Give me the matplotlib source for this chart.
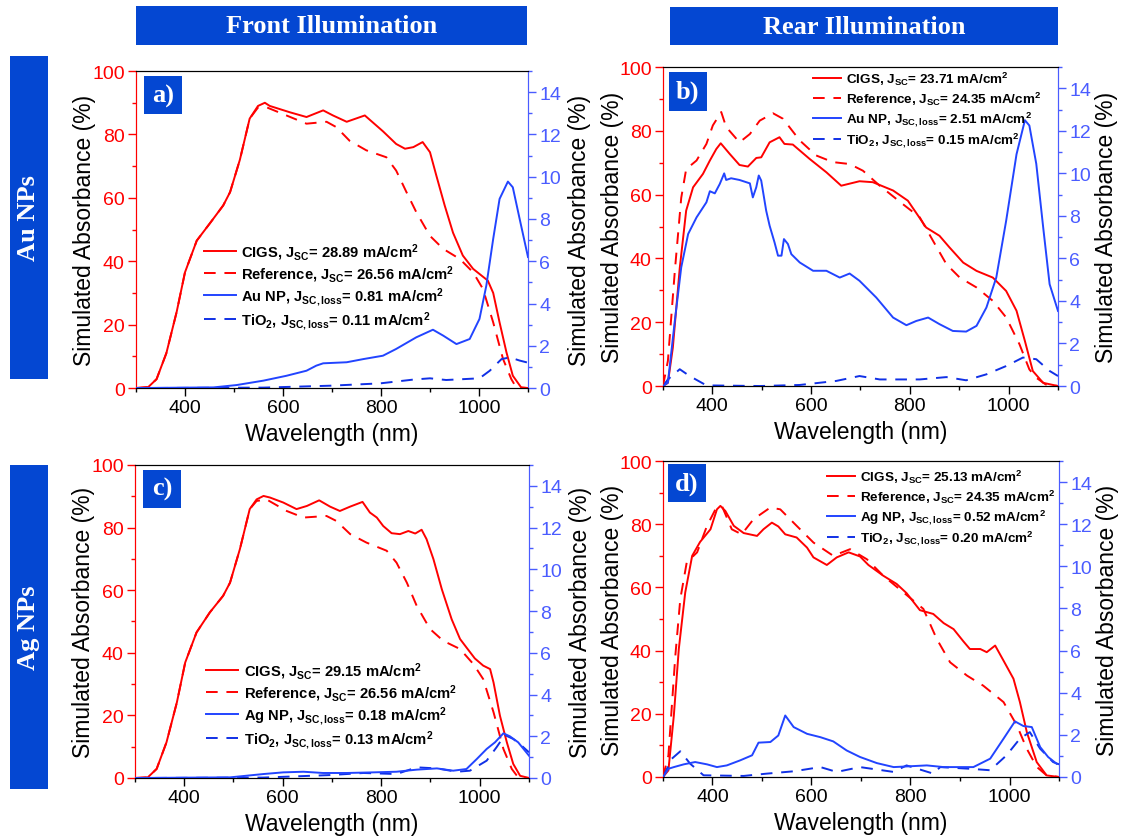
import matplotlib
matplotlib.use("Agg")
import matplotlib.pyplot as plt
from matplotlib.patches import Rectangle
from matplotlib.ticker import MultipleLocator

plt.rcParams['font.family'] = ['Liberation Sans', 'DejaVu Sans']
plt.rcParams['mathtext.fontset'] = 'custom'
plt.rcParams['mathtext.rm'] = 'Liberation Sans'
plt.rcParams['mathtext.bf'] = 'Liberation Sans:bold'
plt.rcParams['mathtext.it'] = 'Liberation Sans:italic'

# ---------------- panel a: Au NPs, front illumination ----------------
a_cigs_wl = [300, 325, 342, 362, 383, 400, 424, 451, 478, 492, 512, 532, 549, 563, 573, 614, 648, 682, 702, 730,
             767, 804, 831, 849, 866, 885, 900, 913, 930, 947, 967, 988, 1018, 1029, 1042, 1056, 1069, 1086, 1100]
a_cigs = [0, 0.3, 2.8, 11, 24, 36.5, 46.5, 52, 57.6, 61.8, 72, 85, 89, 90, 89, 87, 85.5, 87.6, 86, 84,
          86, 81, 77, 75.5, 76, 77.6, 74.4, 67, 57.6, 49, 41.8, 37.6, 33.9, 30, 20.7, 11.3, 3.9, 0.2, 0]
a_ref_wl = [300, 325, 342, 362, 383, 400, 424, 451, 478, 492, 512, 532, 549, 566, 607, 648, 689, 709, 736, 770,
            811, 831, 852, 872, 900, 927, 961, 988, 1008, 1029, 1049, 1066, 1076, 1100]
a_ref = [0, 0.3, 2.8, 11, 24, 36.5, 46.5, 52, 57.6, 61.8, 72, 85, 88.5, 88.6, 86, 83.4, 84, 82.3, 78, 75,
         72.8, 68.6, 61.8, 55.5, 48, 43.9, 40.7, 36.5, 31.3, 20.7, 9.2, 2.8, 0.2, 0]
a_np_wl = [300, 458, 505, 560, 607, 648, 668, 682, 730, 764, 804, 831, 872, 906, 927, 954, 981, 1001, 1015,
           1029, 1042, 1059, 1069, 1083, 1100]
a_np = [0, 0.03, 0.14, 0.35, 0.58, 0.82, 1.06, 1.17, 1.22, 1.37, 1.53, 1.85, 2.4, 2.76, 2.48, 2.08, 2.32, 3.27,
        4.85, 7.06, 8.95, 9.77, 9.5, 8.0, 6.2]
a_tio2_wl = [300, 560, 696, 798, 866, 900, 933, 1001, 1022, 1046, 1063, 1083, 1100]
a_tio2 = [0, 0.02, 0.11, 0.22, 0.4, 0.46, 0.38, 0.46, 0.82, 1.37, 1.45, 1.3, 1.2]
a_labels = [r"CIGS, J$_{\mathbf{SC}}$= 28.89 mA/cm$^{\mathbf{2}}$",
            r"Reference, J$_{\mathbf{SC}}$= 26.56 mA/cm$^{\mathbf{2}}$",
            r"Au NP, J$_{\mathbf{SC,loss}}$= 0.81 mA/cm$^{\mathbf{2}}$",
            r"TiO$_{\mathbf{2}}$, J$_{\mathbf{SC,loss}}$= 0.11 mA/cm$^{\mathbf{2}}$"]

# ---------------- panel b: Au NPs, rear illumination ----------------
b_cigs_wl = [300, 310, 320, 334, 347, 361, 381, 395, 408, 417, 435, 455, 472, 489, 499, 516, 536, 546, 563, 597,
             631, 661, 698, 725, 766, 796, 833, 860, 880, 908, 935, 968, 995, 1016, 1033, 1049, 1070, 1100]
b_cigs = [0, 1, 12, 37, 55, 62.3, 66.5, 70.7, 74.3, 76.1, 72.8, 69.3, 68.8, 71.5, 71.7, 76.4, 78, 75.9, 75.7, 71.2,
          67, 62.8, 64.2, 63.9, 61.3, 58.1, 49.7, 47.1, 43.5, 38.7, 36.1, 34, 29.8, 23.6, 14.1, 4.7, 1, 0]
b_ref_wl = [300, 310, 324, 337, 347, 368, 388, 401, 418, 428, 455, 476, 496, 523, 543, 577, 610, 644, 678, 705,
            739, 786, 820, 847, 874, 901, 935, 968, 995, 1022, 1042, 1056, 1075, 1100]
b_ref = [0, 7.9, 36, 59, 68, 70.7, 75.9, 81.7, 85.9, 81.2, 76.4, 79, 83.2, 85.5, 83.8, 77, 72.3, 70.2, 69.6, 67.5,
         62.8, 57, 52.9, 45.5, 38.2, 34, 30.9, 26.7, 21.5, 13.1, 5.2, 2.6, 0.5, 0]
b_np_wl = [300, 310, 324, 337, 351, 368, 388, 395, 405, 415, 424, 428, 438, 455, 476, 482, 489, 494, 499, 509,
           516, 526, 533, 540, 545, 553, 560, 577, 604, 631, 658, 678, 698, 732, 766, 793, 813, 837, 860, 887,
           914, 935, 955, 975, 995, 1016, 1033, 1042, 1056, 1070, 1083, 1100]
b_np = [0, 0.16, 3.06, 5.58, 7.15, 7.93, 8.64, 9.16, 9.06, 9.5, 10.0, 9.69, 9.77, 9.69, 9.53, 8.87, 9.35, 9.9,
        9.66, 8.25, 7.54, 6.75, 6.13, 6.13, 6.91, 6.68, 6.2, 5.81, 5.42, 5.42, 5.1, 5.29, 4.95, 4.16, 3.22, 2.86,
        3.06, 3.22, 2.91, 2.59, 2.56, 2.83, 3.69, 5.1, 7.77, 10.9, 12.5, 12.25, 10.45, 7.46, 4.79, 3.53]
b_tio2_wl = [300, 310, 334, 354, 388, 496, 577, 651, 698, 739, 820, 874, 914, 955, 995, 1029, 1056, 1083, 1100]
b_tio2 = [0, 0.31, 0.79, 0.47, 0.03, 0, 0.05, 0.24, 0.47, 0.31, 0.31, 0.42, 0.27, 0.55, 0.94, 1.34, 1.26, 0.71,
          0.47]
b_labels = [r"CIGS, J$_{\mathbf{SC}}$= 23.71 mA/cm$^{\mathbf{2}}$",
            r"Reference, J$_{\mathbf{SC}}$= 24.35 mA/cm$^{\mathbf{2}}$",
            r"Au NP, J$_{\mathbf{SC,loss}}$= 2.51 mA/cm$^{\mathbf{2}}$",
            r"TiO$_{\mathbf{2}}$, J$_{\mathbf{SC,loss}}$= 0.15 mA/cm$^{\mathbf{2}}$"]

# ---------------- panel c: Ag NPs, front illumination ----------------
c_cigs_wl = [300, 326, 344, 364, 385, 402, 425, 452, 479, 493, 513, 533, 547, 561, 574, 601, 628, 649, 674, 696,
             716, 737, 762, 777, 791, 804, 821, 838, 855, 869, 882, 892, 906, 923, 943, 960, 973, 990, 1007, 1021,
             1028, 1041, 1055, 1068, 1082, 1100]
c_cigs = [0, 0.2, 2.9, 11.4, 24.1, 36.9, 46.5, 52.9, 58.2, 62.4, 73.1, 85.9, 89, 90.1, 89.6, 88, 85.9, 86.9, 88.7,
          86.7, 85.3, 86.7, 88.2, 84.8, 83.2, 80.5, 78.2, 77.9, 78.9, 78.1, 79.3, 76.3, 69.9, 60.3, 50.7, 44.4,
          41.7, 38.2, 35.9, 34.8, 30.5, 19.9, 11.4, 4.5, 0.7, 0]
c_ref_wl = [300, 326, 344, 364, 385, 402, 425, 452, 479, 493, 513, 533, 547, 567, 608, 642, 689, 709, 737, 770,
            811, 831, 852, 872, 899, 926, 960, 987, 1007, 1028, 1048, 1065, 1078, 1100]
c_ref = [0, 0.2, 2.9, 11.4, 24.1, 36.9, 46.5, 52.9, 58.2, 62.4, 73.1, 85.9, 88.5, 89, 85.3, 83.2, 83.7, 82.1, 77.9,
         75.2, 72.6, 68.8, 62.4, 55, 47.6, 43.8, 41.2, 36.4, 31.6, 21, 9.3, 2.9, 0.2, 0]
c_np_wl = [300, 493, 561, 601, 642, 682, 730, 784, 831, 872, 913, 946, 973, 994, 1014, 1031, 1048, 1061, 1078,
           1100]
c_np = [0, 0.03, 0.19, 0.27, 0.3, 0.24, 0.24, 0.27, 0.3, 0.4, 0.46, 0.35, 0.43, 0.91, 1.39, 1.71, 2.14, 2.0,
        1.71, 1.07]
c_tio2_wl = [300, 560, 628, 696, 764, 831, 872, 913, 953, 980, 1014, 1034, 1051, 1068, 1085, 1100]
c_tio2 = [0, 0.02, 0.08, 0.14, 0.24, 0.19, 0.51, 0.46, 0.3, 0.35, 0.83, 1.47, 2.06, 1.87, 1.55, 1.23]
c_labels = [r"CIGS, J$_{\mathbf{SC}}$= 29.15 mA/cm$^{\mathbf{2}}$",
            r"Reference, J$_{\mathbf{SC}}$= 26.56 mA/cm$^{\mathbf{2}}$",
            r"Ag NP, J$_{\mathbf{SC,loss}}$= 0.18 mA/cm$^{\mathbf{2}}$",
            r"TiO$_{\mathbf{2}}$, J$_{\mathbf{SC,loss}}$= 0.13 mA/cm$^{\mathbf{2}}$"]

# ---------------- panel d: Ag NPs, rear illumination ----------------
d_cigs_wl = [300, 311, 322, 332, 345, 359, 375, 396, 409, 416, 426, 443, 463, 490, 503, 520, 533, 547, 570, 591,
             604, 631, 651, 675, 698, 715, 745, 772, 792, 819, 846, 867, 887, 907, 920, 941, 954, 971, 988, 1008,
             1021, 1035, 1055, 1075, 1100]
d_cigs = [0, 2.1, 19.5, 40.5, 58.4, 70, 74.4, 78.4, 84.7, 85.8, 84.2, 79.5, 77.2, 76.3, 78.4, 80.5, 79.3, 76.8,
          75.8, 72.6, 69.5, 67.1, 69.5, 71.1, 69.8, 67.1, 63.7, 61.1, 58.2, 52.8, 51.6, 48.7, 46.8, 42.9, 40.5,
          40.5, 39.5, 41.6, 36.8, 31.1, 23.7, 14.2, 4.7, 0.5, 0]
d_ref_wl = [300, 311, 325, 335, 348, 369, 389, 406, 419, 439, 459, 483, 517, 537, 570, 604, 644, 678, 712, 745,
            786, 826, 853, 880, 914, 947, 988, 1015, 1035, 1055, 1075, 1100]
d_ref = [0, 6.8, 38.4, 56.3, 67.9, 71.1, 79.5, 84.7, 85.8, 78.4, 76.8, 81.6, 85.3, 84.7, 79.5, 74.2, 70, 72.1,
         68.9, 63.7, 58.4, 53.2, 43.7, 36.3, 32.1, 28.9, 23.7, 16.3, 8.9, 3.2, 0.5, 0]
d_np_wl = [300, 311, 322, 342, 365, 389, 409, 429, 456, 480, 493, 517, 533, 547, 564, 591, 618, 644, 671, 698,
           732, 766, 833, 867, 927, 961, 988, 1011, 1028, 1045, 1062, 1078, 1095]
d_np = [0, 0.39, 0.47, 0.6, 0.71, 0.6, 0.47, 0.55, 0.79, 1.03, 1.63, 1.66, 1.97, 2.92, 2.37, 2.05, 1.89, 1.69,
        1.26, 0.95, 0.66, 0.47, 0.55, 0.47, 0.47, 0.87, 1.82, 2.64, 2.42, 2.37, 1.42, 0.95, 0.63]
d_tio2_wl = [300, 318, 335, 355, 382, 463, 510, 564, 618, 651, 698, 766, 792, 846, 860, 920, 961, 994, 1021,
             1041, 1062, 1088, 1100]
d_tio2 = [0, 0.87, 1.22, 0.63, 0.08, 0.05, 0.16, 0.27, 0.47, 0.24, 0.47, 0.24, 0.55, 0.16, 0.47, 0.39, 0.32,
          1.03, 1.82, 2.13, 1.34, 0.71, 0.6]
d_labels = [r"CIGS, J$_{\mathbf{SC}}$= 25.13 mA/cm$^{\mathbf{2}}$",
            r"Reference, J$_{\mathbf{SC}}$= 24.35 mA/cm$^{\mathbf{2}}$",
            r"Ag NP, J$_{\mathbf{SC,loss}}$= 0.52 mA/cm$^{\mathbf{2}}$",
            r"TiO$_{\mathbf{2}}$, J$_{\mathbf{SC,loss}}$= 0.20 mA/cm$^{\mathbf{2}}$"]

panel_tags = ["a)", "b)", "c)", "d)"]
column_titles = ["Front Illumination", "Rear Illumination"]
row_titles = ["Au NPs", "Ag NPs"]

RED = "#FF0000"
AXBLUE = "#4A5CFF"
LINEBLUE = "#2244FF"
DASHBLUE = "#1030E6"
BOXBLUE = "#0447D2"

fig = plt.figure(figsize=(11.21, 8.37), dpi=100)

# legend styles: (font size, handle length, handle pad, row spacing)
front_leg = (10.6, 2.17, 0.39, 0.10)
rear_leg = (9.7, 2.08, 0.37, 0.17)

panels = [
    dict(rect=[0.1213, 0.5352, 0.3497, 0.3787], cigs=(a_cigs_wl, a_cigs), ref=(a_ref_wl, a_ref),
         np_=(a_np_wl, a_np), tio2=(a_tio2_wl, a_tio2), labels=a_labels, leg=(0.173, 0.322),
         legstyle=front_leg, tag_box=(0.02, 0.864, 0.097, 0.12), lpad=(-3, 5)),
    dict(rect=[0.5914, 0.5376, 0.3524, 0.3811], cigs=(b_cigs_wl, b_cigs), ref=(b_ref_wl, b_ref),
         np_=(b_np_wl, b_np), tio2=(b_tio2_wl, b_tio2), labels=b_labels, leg=(0.380, 0.867),
         legstyle=rear_leg, tag_box=(0.015, 0.862, 0.096, 0.122), lpad=(-3.5, 3)),
    dict(rect=[0.1204, 0.0693, 0.3515, 0.3740], cigs=(c_cigs_wl, c_cigs), ref=(c_ref_wl, c_ref),
         np_=(c_np_wl, c_np), tio2=(c_tio2_wl, c_tio2), labels=c_labels, leg=(0.180, 0.233),
         legstyle=front_leg, tag_box=(0.02, 0.863, 0.097, 0.121), lpad=(-3, 5)),
    dict(rect=[0.5914, 0.0705, 0.3533, 0.3775], cigs=(d_cigs_wl, d_cigs), ref=(d_ref_wl, d_ref),
         np_=(d_np_wl, d_np), tio2=(d_tio2_wl, d_tio2), labels=d_labels, leg=(0.414, 0.853),
         legstyle=rear_leg, tag_box=(0.013, 0.870, 0.096, 0.12), lpad=(-3.5, 3)),
]

LW = 1.4
for tag, p in zip(panel_tags, panels):
    ax = fig.add_axes(p["rect"])
    ax2 = ax.twinx()

    l1, = ax.plot(*p["cigs"], color=RED, lw=LW, zorder=3)
    l2, = ax.plot(*p["ref"], color=RED, lw=LW, linestyle=(0, (6, 4.5)), zorder=2)
    l3, = ax2.plot(*p["np_"], color=LINEBLUE, lw=LW, zorder=3)
    l4, = ax2.plot(*p["tio2"], color=DASHBLUE, lw=LW, linestyle=(0, (6, 4.5)), zorder=2)

    ax.set_xlim(300, 1100)
    ax.set_ylim(0, 100)
    ax2.set_ylim(0, 15)
    ax.xaxis.set_major_locator(MultipleLocator(200))
    ax.xaxis.set_minor_locator(MultipleLocator(100))
    ax.yaxis.set_major_locator(MultipleLocator(20))
    ax.yaxis.set_minor_locator(MultipleLocator(10))
    ax2.yaxis.set_major_locator(MultipleLocator(2))
    ax2.yaxis.set_minor_locator(MultipleLocator(1))

    ax.tick_params(axis='x', which='major', direction='out', length=6, width=1, labelsize=14, pad=2)
    ax.tick_params(axis='x', which='minor', direction='out', length=3, width=1)
    ax.tick_params(axis='y', which='major', direction='out', length=6, width=1, labelsize=14,
                   colors=RED, pad=2)
    ax.tick_params(axis='y', which='minor', direction='out', length=3, width=1, colors=RED)
    ax2.tick_params(axis='y', which='major', direction='out', length=6, width=1, labelsize=14,
                    colors=AXBLUE, pad=2)
    ax2.tick_params(axis='y', which='minor', direction='out', length=3, width=1, colors=AXBLUE)

    for a in (ax, ax2):
        a.spines['left'].set_color(RED)
        a.spines['right'].set_color(AXBLUE)
        a.spines['top'].set_color('black')
        a.spines['bottom'].set_color('black')

    ax.set_xlabel("Wavelength (nm)", fontsize=16.5, labelpad=4)
    ax.set_ylabel("Simulated Absorbance (%)", fontsize=16.5, labelpad=p["lpad"][0])
    ax2.set_ylabel("Simulated Absorbance (%)", fontsize=16.5, labelpad=p["lpad"][1])

    fs, hl, htp, ls = p["legstyle"]
    ax2.legend([l1, l2, l3, l4], p["labels"], loc='center left', bbox_to_anchor=p["leg"],
               frameon=False, prop={'weight': 'bold', 'size': fs}, handlelength=hl,
               handletextpad=htp, labelspacing=ls, borderpad=0, borderaxespad=0)

    bx, by, bw, bh = p["tag_box"]
    ax2.add_patch(Rectangle((bx, by), bw, bh, transform=ax2.transAxes, facecolor=BOXBLUE,
                            edgecolor='none', zorder=5))
    ax2.text(bx + bw / 2, by + bh / 2, tag, transform=ax2.transAxes, ha='center', va='center',
             color='white', fontsize=19, fontweight='bold', family='Liberation Serif', zorder=6)

# column headers
for title, rect in zip(column_titles, [(0.1213, 0.945, 0.3488, 0.0466), (0.5977, 0.945, 0.3461, 0.0454)]):
    fig.patches.append(Rectangle(rect[:2], rect[2], rect[3], transform=fig.transFigure,
                                 facecolor=BOXBLUE, edgecolor='none'))
    fig.text(rect[0] + rect[2] / 2, rect[1] + rect[3] / 2, title, ha='center', va='center',
             color='white', fontsize=19, fontweight='bold', family='Liberation Serif')

# row headers
for title, rect in zip(row_titles, [(0.0089, 0.546, 0.0339, 0.386), (0.0089, 0.0562, 0.0339, 0.387)]):
    fig.patches.append(Rectangle(rect[:2], rect[2], rect[3], transform=fig.transFigure,
                                 facecolor=BOXBLUE, edgecolor='none'))
    fig.text(rect[0] + rect[2] / 2, rect[1] + rect[3] / 2, title, ha='center', va='center',
             rotation=90, color='white', fontsize=19, fontweight='bold', family='Liberation Serif')

fig.savefig("out.png", dpi=100)
